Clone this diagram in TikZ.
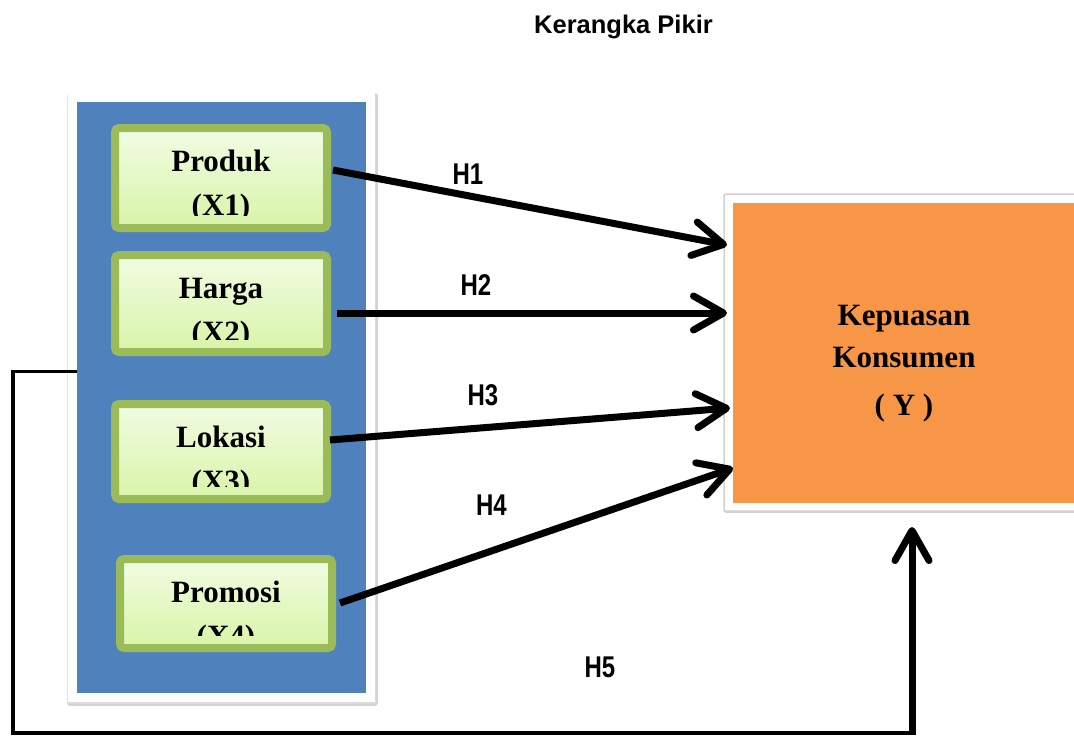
\documentclass[tikz,border=0pt]{standalone}
\usepackage{fontspec}
\setmainfont{Liberation Serif}
\newfontfamily\arialf{Liberation Sans}
\newfontfamily\arialn[FakeStretch=0.8]{Liberation Sans}
\usetikzlibrary{arrows.meta,calc,shadows}
\definecolor{panelblue}{HTML}{4F81BD}
\definecolor{olivegreen}{HTML}{9BBB59}
\definecolor{ltop}{HTML}{F1FCE3}
\definecolor{lbot}{HTML}{D8F4A8}
\definecolor{yorange}{HTML}{F79646}
\tikzset{
  vtext/.style={font=\fontsize{31}{36}\selectfont\bfseries, inner sep=0pt},
  vbox/.style 2 args={rectangle, draw=olivegreen, line width=8pt, rounded corners=4pt,
    top color=ltop, bottom color=lbot, minimum width=212pt, inner sep=0pt,
    drop shadow={shadow xshift=2pt, shadow yshift=-3pt, opacity=0.3},
    path picture={
      \clip (path picture bounding box.north west) rectangle ([yshift=13pt]path picture bounding box.south east);
      \node[vtext, anchor=base] at ([yshift=-43pt]path picture bounding box.north) {#1};
      \node[vtext, anchor=base] at ([yshift=-87pt]path picture bounding box.north) {#2};
    }},
  panelbox/.style={rectangle, fill=panelblue, draw=white, line width=9pt, inner sep=0pt},
  ybox/.style={rectangle, fill=yorange, draw=white, line width=7.5pt, inner sep=0pt},
  frameshadow/.style={draw=black!18, line width=1.5pt, fill=black!14},
  harrow/.style={line width=7pt, -{Straight Barb[length=30pt,width=34pt,round]}},
  thinline/.style={line width=3.5pt, line join=miter},
  hlabel/.style={font=\arialn\bfseries\fontsize{30}{34}\selectfont, anchor=base, inner sep=0pt},
  titlestyle/.style={font=\arialf\bfseries\fontsize{25.5}{30}\selectfont, anchor=base, inner sep=0pt},
}
\begin{document}
\begin{tikzpicture}[x=1pt,y=-1pt]
\useasboundingbox (0,0) rectangle (1074,737);
\fill[white] (0,0) rectangle (1074,737);

\node[titlestyle] (title) at (623.5,33) {Kerangka Pikir};

% frame shadows
\path[frameshadow, rounded corners=2pt] (68,94) rectangle (377,705);
\path[frameshadow, rounded corners=2pt] (724,194) rectangle (1080,512);

% panel and variable boxes
\node[panelbox, minimum width=298pt, minimum height=600pt] (panel) at (221.5,397.5) {};
\node[vbox={Produk}{(X1)}, minimum height=100pt] (x1) at (221,178) {};
\node[vbox={Harga}{(X2)}, minimum height=97pt] (x2) at (221,303.5) {};
\node[vbox={Lokasi}{(X3)}, minimum height=95pt] (x3) at (221,451.5) {};
\node[vbox={Promosi}{(X4)}, minimum height=89pt] (x4) at (226,603.5) {};

% dependent variable
\node[ybox, minimum width=349.5pt, minimum height=307.5pt] (Y) at (903.5,352.5) {};
\node[vtext, anchor=base] (y1) at (904,325) {Kepuasan};
\node[vtext, anchor=base] (y2) at (904,367) {Konsumen};
\node[vtext, anchor=base] (y3) at (904,415) {( Y )};

% hypothesis arrows
\draw[harrow] ($(x1.east)+(2,-8)$) -- ($(Y.west)+(2,-107.5)$);
\draw[harrow] ($(x2.east)+(6,9.5)$) -- ($(Y.west)+(2,-39.5)$);
\draw[harrow] ($(x3.east)+(-1,-11.5)$) -- ($(Y.west)+(5,55.5)$);
\draw[harrow] ($(x4.east)+(4,-0.5)$) -- ($(Y.west)+(8,115.5)$);

% H5 path
\coordinate (c5a) at (13,733);
\coordinate (c5b) at (912,733);
\draw[thinline] ($(panel.west)+(9,-26)$) -| (c5a) -- ($(c5b)+(2,0)$);
\draw[harrow] ($(c5b)+(0,1.75)$) -- ($(c5b |- Y.south)+(0,17)$);

% labels
\node[hlabel] (h1) at (468,184) {H1};
\node[hlabel] (h2) at (476,295) {H2};
\node[hlabel] (h3) at (483,405) {H3};
\node[hlabel] (h4) at (491.5,515) {H4};
\node[hlabel] (h5) at (600,677) {H5};
\end{tikzpicture}
\end{document}
